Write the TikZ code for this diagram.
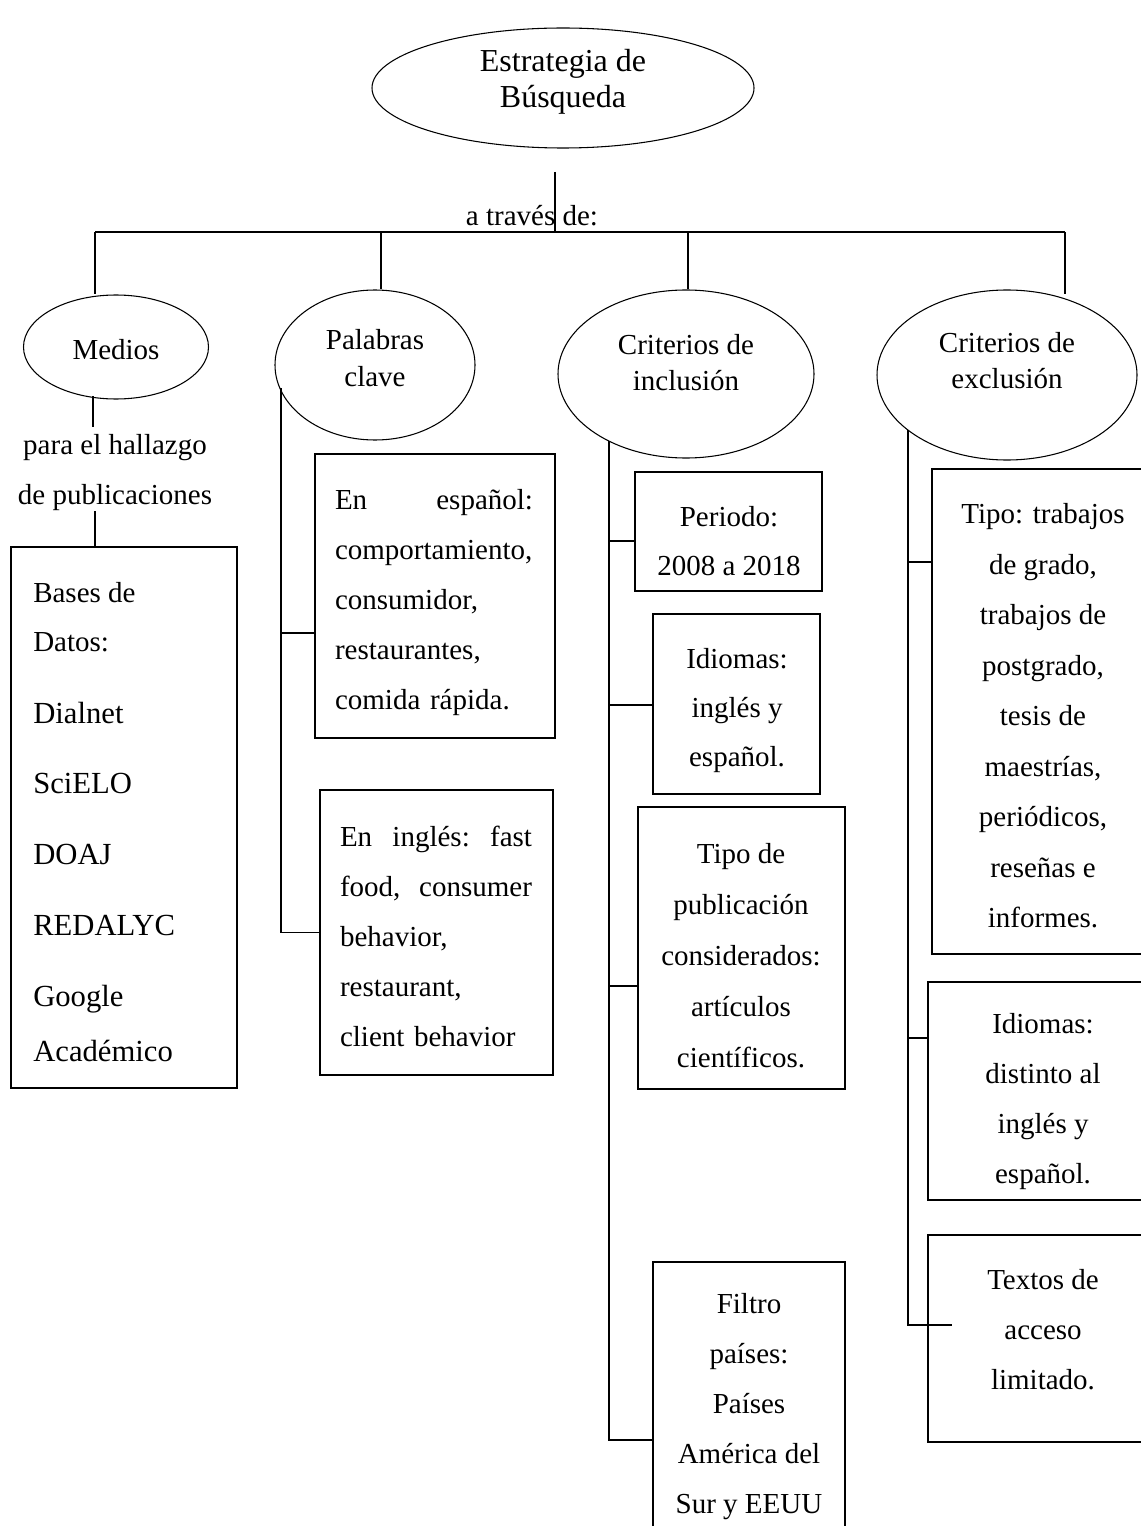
\documentclass[tikz,border=0pt]{standalone}
\usepackage{fontspec}
\setmainfont{Liberation Serif}
\usetikzlibrary{shapes.geometric}
\def\pxu{0.75pt}
\tikzset{
  oval/.style={ellipse, draw, line width=0.8pt, inner sep=0pt},
  box/.style={rectangle, draw, line width=0.9pt, inner sep=0pt},
  txt/.style={inner sep=0pt, align=center, font=\fontsize{21.75}{37.5}\selectfont},
  link/.style={line width=1.2pt},
}
\begin{document}
\begin{tikzpicture}[x=0.75pt,y=-0.75pt]
\fill[white] (0,0) rectangle (1140,1526);
\useasboundingbox (0,0) rectangle (1140,1526);

% ---- ellipses
\node[oval, minimum width=382*\pxu, minimum height=120*\pxu] (top) at (563,88) {};
\node[txt, font=\fontsize{24}{27}\selectfont] (topT) at (563,82) {Estrategia de\\Búsqueda};

\node[oval, minimum width=185*\pxu, minimum height=104*\pxu] (medios) at (116,347) {};
\node[txt] (medT) at (116,350) {Medios};

\node[oval, minimum width=200*\pxu, minimum height=150*\pxu] (kw) at (375,365) {};
\node[txt, font=\fontsize{21.75}{27.75}\selectfont] (kwT) at (375,358) {Palabras\\clave};

\node[oval, minimum width=256*\pxu, minimum height=168*\pxu] (incl) at (686,374) {};
\node[txt, font=\fontsize{21.75}{27}\selectfont] (inclT) at (686,363) {Criterios de\\inclusión};

\node[oval, minimum width=260*\pxu, minimum height=170*\pxu] (excl) at (1007,375) {};
\node[txt, font=\fontsize{21.75}{27}\selectfont] (exclT) at (1007,361) {Criterios de\\exclusión};

% ---- top connectors
\node[txt] (via) at (532,216) {a través de:};
\coordinate (hubTop) at (555,172);
\coordinate (hub) at (555,232);
\coordinate (barL) at (95,232);
\coordinate (barB) at (381,232);
\coordinate (barC) at (688,232);
\coordinate (barR) at (1065,232);
\coordinate (barRend) at (1065,294);
\draw[link] (hubTop) -- (hub);
\draw[link] (barL) -- (barR);
\draw[link] (barL) -- (barL |- medios.north);
\draw[link] (barB) -- (barB |- kw.north);
\draw[link] (barC) -- (barC |- incl.north);
\draw[link] (barR) -- (barRend);

% ---- Medios branch
\node[txt] (paraT) at (115,473) {para el hallazgo\\de publicaciones};
\node[box, minimum width=226*\pxu, minimum height=541*\pxu] (db) at (124,817.5) {};
\coordinate (mA) at (93,396);
\coordinate (mB) at (93,427);
\coordinate (mC) at (95,511);
\draw[link] (mA) -- (mB);
\draw[link] (mC) -- (mC |- db.north);
\begin{scope}[every node/.style={inner sep=0pt, anchor=base west}]
\node[font=\fontsize{21.75}{26}\selectfont] (db1) at (33,602) {Bases de};
\node[font=\fontsize{21.75}{26}\selectfont] (db2) at (33,651) {Datos:};
\node[font=\fontsize{23}{28}\selectfont] (db3) at (33,723) {Dialnet};
\node[font=\fontsize{23}{28}\selectfont] (db4) at (33,793) {SciELO};
\node[font=\fontsize{23}{28}\selectfont] (db5) at (33,864) {DOAJ};
\node[font=\fontsize{23}{28}\selectfont] (db6) at (33,935) {REDALYC};
\node[font=\fontsize{23}{28}\selectfont] (db7) at (33,1006) {Google};
\node[font=\fontsize{23}{28}\selectfont] (db8) at (33,1061) {Académico};
\end{scope}

% ---- Palabras clave branch
\node[box, minimum width=240*\pxu, minimum height=284*\pxu] (kw1) at (435,596) {};
\node[txt, align=left, text width=148.5pt, font=\fontsize{21.75}{37.5}\selectfont] (kw1T) at (434,603)
  {\makebox[148.5pt]{En\hfill español:}\\comportamiento,\\consumidor,\\restaurantes,\\comida rápida.};
\node[box, minimum width=233*\pxu, minimum height=285*\pxu] (kw2) at (436.5,932.5) {};
\node[txt, align=left, text width=144pt, font=\fontsize{21.75}{37.5}\selectfont] (kw2T) at (436,936)
  {\makebox[144pt]{En\hfill inglés:\hfill fast}\\\makebox[144pt]{food,\hfill consumer}\\behavior,\\restaurant,\\client behavior};
\coordinate (kwTop) at (281,388);
\coordinate (kwTick) at (281,633);
\draw[link] (kwTop) |- (kw2.west);
\draw[link] (kwTick) -- (kwTick -| kw1.west);

% ---- Criterios de inclusion branch
\node[box, minimum width=187*\pxu, minimum height=119*\pxu] (per) at (728.5,531.5) {};
\node[txt, font=\fontsize{21.75}{36.75}\selectfont] (perT) at (729,541.5) {Periodo:\\2008 a 2018};
\node[box, minimum width=167*\pxu, minimum height=180*\pxu] (idi) at (736.5,704) {};
\node[txt, font=\fontsize{21.75}{36.75}\selectfont] (idiT) at (737,711) {Idiomas:\\inglés y\\español.};
\node[box, minimum width=207*\pxu, minimum height=282*\pxu] (tip) at (741.5,948) {};
\node[txt, font=\fontsize{21.75}{38.25}\selectfont] (tipT) at (741,956) {Tipo de\\publicación\\considerados:\\artículos\\científicos.};
\node[box, minimum width=192*\pxu, minimum height=278*\pxu] (fil) at (749,1401) {};
\node[txt] (filT) at (749,1407) {Filtro\\países:\\Países\\América del\\Sur y EEUU};
\coordinate (inTop) at (609,441);
\coordinate (inT1) at (609,541);
\coordinate (inT2) at (609,705);
\coordinate (inT3) at (609,986);
\coordinate (inT4) at (609,1440);
\draw[link] (inTop) -- (inT4) -- (inT4 -| fil.west);
\draw[link] (inT1) -- (inT1 -| per.west);
\draw[link] (inT2) -- (inT2 -| idi.west);
\draw[link] (inT3) -- (inT3 -| tip.west);

% ---- Criterios de exclusion branch
\node[box, minimum width=218*\pxu, minimum height=485*\pxu] (ex1) at (1041,711.5) {};
\node[txt, font=\fontsize{21.75}{37.9}\selectfont] (ex1T) at (1043,716)
  {Tipo: trabajos\\de grado,\\trabajos de\\postgrado,\\tesis de\\maestrías,\\periódicos,\\reseñas e\\informes.};
\node[box, minimum width=222*\pxu, minimum height=218*\pxu] (ex2) at (1039,1091) {};
\node[txt] (ex2T) at (1043,1102) {Idiomas:\\distinto al\\inglés y\\español.};
\node[box, minimum width=222*\pxu, minimum height=207*\pxu] (ex3) at (1039,1338.5) {};
\node[txt] (ex3T) at (1043,1330) {Textos de\\acceso\\limitado.};
\coordinate (exTop) at (908,430);
\coordinate (exT1) at (908,562);
\coordinate (exT2) at (908,1038);
\coordinate (exT3) at (908,1325);
\coordinate (exT3end) at (952,1325);
\draw[link] (exTop) -- (exT3) -- (exT3end);
\draw[link] (exT1) -- (exT1 -| ex1.west);
\draw[link] (exT2) -- (exT2 -| ex2.west);
\end{tikzpicture}
\end{document}
